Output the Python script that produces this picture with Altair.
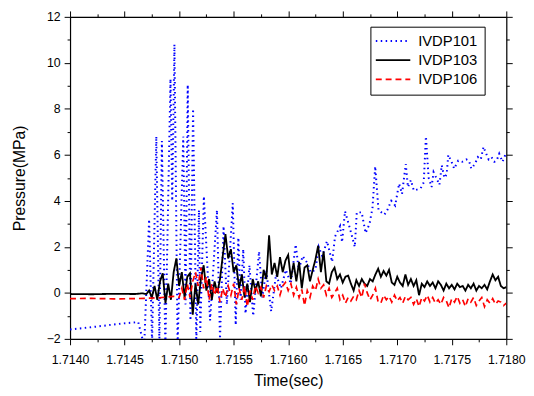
import altair as alt
import pandas as pd

SERIES = ["IVDP101", "IVDP103", "IVDP106"]

# IVDP101 (blue dotted) - peaks/troughs
BLUE_T = [1.714000, 1.714219, 1.714463, 1.714625, 1.714680, 1.714725, 1.714752,
          1.714791, 1.714819, 1.714842, 1.714874, 1.714921, 1.714937, 1.714957,
          1.714986, 1.715014, 1.715038, 1.715059, 1.715079, 1.715104, 1.715128,
          1.715158, 1.715182, 1.715194, 1.715227, 1.715284, 1.715347, 1.715375,
          1.715408, 1.715438, 1.715492, 1.715519, 1.715543, 1.715564, 1.715588,
          1.715609, 1.715645, 1.715679, 1.715733, 1.715763, 1.715799, 1.715844,
          1.715889, 1.715934, 1.715979, 1.716024, 1.716069, 1.716097, 1.716133,
          1.716175, 1.716205, 1.716250, 1.716280, 1.716313, 1.716356, 1.716403,
          1.716430, 1.716476, 1.716494, 1.716521, 1.716566, 1.716611, 1.716629,
          1.716674, 1.716710, 1.716746, 1.716773, 1.716798, 1.716828, 1.716882,
          1.716909, 1.716945, 1.716981, 1.717017, 1.717044, 1.717078, 1.717098,
          1.717125, 1.717152, 1.717188, 1.717215, 1.717243, 1.717263, 1.717288,
          1.717315, 1.717333, 1.717363, 1.717387, 1.717408, 1.717432, 1.717453,
          1.717468, 1.717498, 1.717522, 1.717559, 1.717595, 1.717633, 1.717658,
          1.717679, 1.717712, 1.717739, 1.717766, 1.717791, 1.717811, 1.717838,
          1.717865, 1.717890, 1.717911, 1.717935, 1.717965, 1.718000]
BLUE_V = [-1.59, -1.48, -1.34, -1.27, -2.3, 3.2, -2.2,
          6.8, -2.2, 6.6, -2.3, 9.3, 4.0, 10.8,
          -2.3, 2.5, 6.8, -0.5, 9.05, -1.2, 8.0,
          -2.2, 3.6, -1.7, 4.2, -1.2, 3.6, -2.0,
          2.9, -0.5, 3.9, -1.4, 2.4, -0.3, 1.9,
          -0.9, 1.2, -1.0, 1.8, -0.2, 1.0, -0.8,
          0.8, 0.2, 1.0, 0.4, 2.1, 1.0, 1.6,
          1.3, 0.9, 1.0, 2.0, 1.6, 2.25, 1.35,
          2.45, 2.9, 2.2, 3.55, 2.8, 2.0, 3.5,
          3.5, 2.6, 3.0, 3.7, 5.5, 3.6, 3.4,
          3.6, 4.0, 3.8, 4.75, 4.3, 5.6, 4.6,
          4.9, 4.45, 4.5, 4.55, 4.8, 6.8, 5.0,
          4.6, 5.25, 4.95, 4.7, 5.55, 5.0, 5.15,
          6.0, 5.7, 5.4, 5.75, 5.7, 5.8, 5.75,
          5.4, 5.6, 5.9, 5.8, 6.35, 6.1, 5.8,
          5.9, 5.7, 5.75, 6.05, 5.7, 6.1]

# IVDP103 (black solid): quiet part, then samples every 25 microseconds
BLACK_QUIET_T = [1.71400, 1.71420, 1.71440, 1.71460, 1.71466]
BLACK_QUIET_V = [-0.05, -0.06, -0.04, -0.05, -0.02]
BLACK_T0 = 1.71470
BLACK_DT = 0.000025
BLACK_V = [-0.05, 0.1, -0.2, 0.3, -0.3, 0.5, 0.85, -0.45, 0.4, -0.3,
           0.9, 1.5, 0.3, 0.9, -0.2, 0.7, 0.85, -0.95, 0.4, -0.5,
           0.6, 1.2, 0.1, 0.6, -0.3, 0.5, 0.0, 0.6, 1.6, 2.55,
           1.5, 1.9, 0.9, 1.2, 0.2, 0.8, -0.2, 0.4, -0.4, 0.6,
           0.1, 0.5, -0.15, 1.0, 0.6, 2.5, 0.8, 1.3, 0.7, 1.55,
           0.9, 1.4, 1.65, 0.6, 1.3, 0.5, 1.35, 0.2, 1.1, 1.2,
           0.5, 1.0, 1.45, 2.05, 0.9, 1.8, 0.5, 0.4, 0.9, 1.1,
           0.6, 0.8, 0.45, 0.7, 0.75, 0.4, 0.1, 0.55, 0.3, 0.6,
           0.4, 0.3, 0.6, 0.5, 0.8, 1.05, 0.7, 0.95, 0.75, 1.0,
           0.45, 0.35, 0.7, 0.45, 0.3, 0.8, 0.35, 0.6, 0.3, 0.55,
           -0.1, 0.4, 0.25, 0.5, 0.3, 0.45, 0.2, 0.5, 0.35, 0.1,
           0.4, 0.2, 0.35, 0.15, 0.4, 0.25, 0.3, 0.1, 0.35, 0.2,
           0.4, 0.1, 0.3, 0.2, 0.35, 0.15, 0.5, 0.8, 0.55, 0.7,
           0.3, 0.2, 0.25]

# IVDP106 (red dashed): quiet part, then samples every 25 microseconds
RED_QUIET_T = [1.71400, 1.71420, 1.71440, 1.71460, 1.71480, 1.71495]
RED_QUIET_V = [-0.25, -0.24, -0.26, -0.25, -0.22, -0.15]
RED_T0 = 1.71500
RED_DT = 0.000025
RED_V = [-0.2, 0.2, -0.3, 0.4, -0.2, 0.5, 0.9, 0.3, 1.1, 0.2,
         0.7, -0.3, 0.4, -0.1, 0.3, -0.4, 0.2, -0.2, 0.3, -0.1,
         0.4, -0.5, 0.2, -0.3, 0.3, -0.6, 0.1, -0.3, 0.3, 0.0,
         0.25, -0.2, 0.3, 0.05, 0.35, 0.1, 0.3, -0.1, 0.3, 0.45,
         0.1, 0.4, -0.1, 0.25, -0.2, 0.15, -0.55, 0.1, -0.2, 0.3,
         0.1, 0.6, 0.2, 0.35, -0.1, 0.2, -0.2, 0.0, 0.2, -0.3,
         -0.1, -0.45, -0.2, -0.35, -0.15, -0.3, 0.1, -0.2, 0.4, 0.0,
         -0.3, -0.1, 0.2, -0.4, -0.45, -0.1, -0.3, -0.15, -0.4, -0.1,
         -0.35, -0.2, -0.45, -0.15, -0.3, -0.2, -0.5, -0.25, -0.6, -0.2,
         -0.35, -0.1, -0.4, -0.2, -0.45, -0.3, -0.5, -0.2, -0.35, -0.65,
         -0.25, -0.4, -0.15, -0.45, -0.3, -0.6, -0.25, -0.4, -0.2, -0.55,
         -0.35, -0.2, -0.6, -0.3, -0.45, -0.25, -0.5, -0.35, -0.4, -0.55,
         -0.45]

X_TICKS = [1.71400, 1.71425, 1.71450, 1.71475, 1.71500, 1.71525, 1.71550,
           1.71575, 1.71600, 1.71625, 1.71650, 1.71675, 1.71700, 1.71725,
           1.71750, 1.71775, 1.71800]
Y_TICKS = [-2, -1, 0, 1, 2, 3, 4, 5, 6, 7, 8, 9, 10, 11, 12]

rows = []
for t, v in zip(BLUE_T, BLUE_V):
    rows.append({"t": t, "v": v, "s": SERIES[0]})
for t, v in zip(BLACK_QUIET_T, BLACK_QUIET_V):
    rows.append({"t": t, "v": v, "s": SERIES[1]})
for i, v in enumerate(BLACK_V):
    rows.append({"t": round(BLACK_T0 + i * BLACK_DT, 7), "v": v, "s": SERIES[1]})
for t, v in zip(RED_QUIET_T, RED_QUIET_V):
    rows.append({"t": t, "v": v, "s": SERIES[2]})
for i, v in enumerate(RED_V):
    rows.append({"t": round(RED_T0 + i * RED_DT, 7), "v": v, "s": SERIES[2]})
df = pd.DataFrame(rows)

FONT = "Liberation Sans"
xs = alt.Scale(domain=[1.714, 1.718], nice=False, zero=False)
ys = alt.Scale(domain=[-2, 12], nice=False, zero=False)

x_minor = "round(datum.value*20000) % 2 == 1"
y_minor = "datum.value % 2 != 0"

common = dict(domainColor="black", domainWidth=1.2, tickColor="black", tickWidth=1,
              grid=False, labelColor="black", labelFont=FONT, labelFontSize=12.5,
              titleFont=FONT, titleFontSize=16, titleFontWeight="normal",
              titleColor="black")

bottom_axis = alt.Axis(orient="bottom", values=X_TICKS, format=".4f",
                       labelExpr=f"{x_minor} ? '' : datum.label",
                       tickSize={"condition": {"test": x_minor, "value": 3}, "value": 6},
                       labelPadding=9, titlePadding=7, labelFlush=False,
                       labelOverlap=False, **common)
left_axis = alt.Axis(orient="left", values=Y_TICKS, format="d",
                     labelExpr=f"{y_minor} ? '' : datum.label",
                     tickSize={"condition": {"test": y_minor, "value": 3}, "value": 6},
                     labelPadding=4, titlePadding=19, labelFlush=False,
                     labelOverlap=False, **common)
top_axis = alt.Axis(orient="top", values=X_TICKS, labels=False,
                    tickSize={"condition": {"test": x_minor, "value": 3}, "value": 6},
                    **common)
right_axis = alt.Axis(orient="right", values=Y_TICKS, labels=False,
                      tickSize={"condition": {"test": y_minor, "value": 3}, "value": 6},
                      **common)

legend = alt.Legend(orient="none", legendX=305, legendY=10, title=None,
                    symbolType="M-3.5,0H3.5", symbolSize=100, symbolStrokeWidth=1.5,
                    symbolOffset=8.5,
                    labelFont=FONT, labelFontSize=15, labelColor="black",
                    strokeColor="black", fillColor="white", padding=7,
                    labelOffset=18, rowPadding=3.5)

lines = alt.Chart(df).mark_line(clip=True).encode(
    x=alt.X("t:Q", scale=xs, axis=bottom_axis, title="Time(sec)"),
    y=alt.Y("v:Q", scale=ys, axis=left_axis, title="Pressure(MPa)"),
    color=alt.Color("s:N", scale=alt.Scale(domain=SERIES, range=["#0000ff", "#000000", "#ff0000"]),
                    legend=legend),
    strokeDash=alt.StrokeDash("s:N", scale=alt.Scale(domain=SERIES, range=[[1.5, 3.5], [1, 0], [6, 4]]),
                              legend=legend),
    strokeWidth=alt.StrokeWidth("s:N", scale=alt.Scale(domain=SERIES, range=[2, 1.7, 1.6]),
                                legend=None),
)

mirror = alt.Chart(df).mark_point(opacity=0, clip=True).encode(
    x=alt.X("t:Q", scale=xs, axis=top_axis, title=None),
    y=alt.Y("v:Q", scale=ys, axis=right_axis, title=None),
)

chart = alt.layer(lines, mirror).resolve_axis(x="independent", y="independent").properties(
    width=443, height=327,
    autosize=alt.AutoSizeParams(type="none"),
    padding={"left": 63, "top": 6, "right": 20, "bottom": 54},
).configure_view(strokeWidth=0).configure(background="white")

chart.save("out.html", embed_options={"renderer": "svg", "actions": False})
